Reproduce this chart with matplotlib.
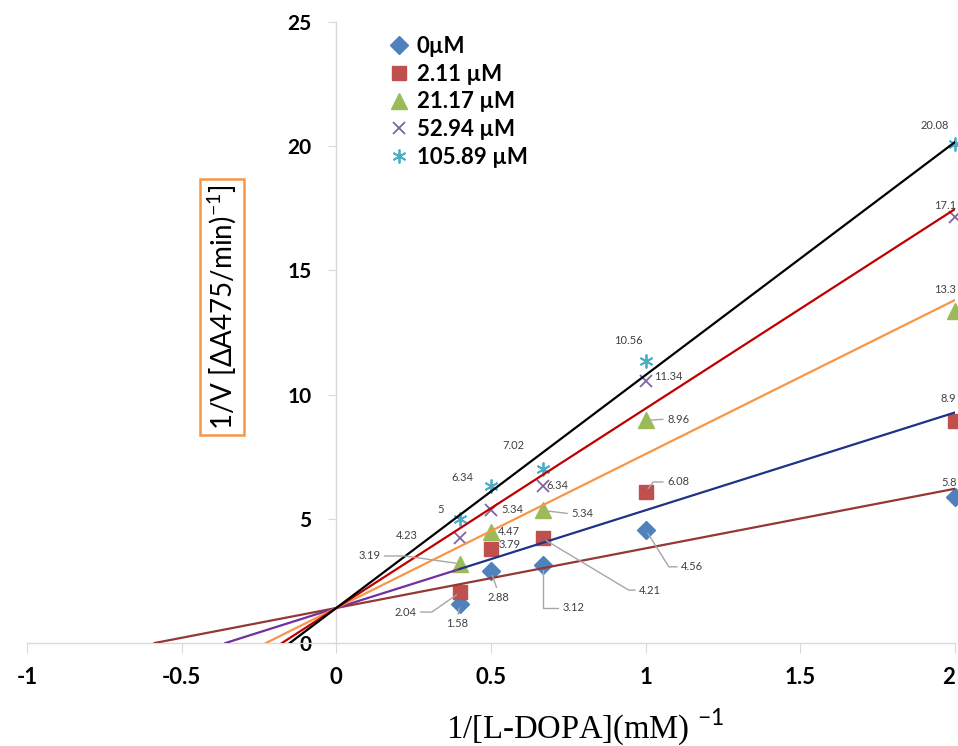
import numpy as np
import matplotlib
matplotlib.use("Agg")
import matplotlib.pyplot as plt

# 1/[L-DOPA] values and 1/V per inhibitor concentration
inv_s = [0.4, 0.5, 0.667, 1.0, 2.0]
series_names = ["0µM", "2.11 µM", "21.17 µM", "52.94 µM", "105.89 µM"]
v_0 = [1.58, 2.88, 3.12, 4.56, 5.89]
v_211 = [2.04, 3.79, 4.21, 6.08, 8.94]
v_2117 = [3.19, 4.47, 5.34, 8.96, 13.35]
v_5294 = [4.23, 5.34, 6.34, 10.56, 17.15]
v_10589 = [5.0, 6.34, 7.02, 11.34, 20.08]
# data labels as printed on the chart (the two at x=1 are swapped in the original,
# the ones at x=2 are cut by the right edge of the picture)
lab_0 = ["1.58", "2.88", "3.12", "4.56", "5.8"]
lab_211 = ["2.04", "3.79", "4.21", "6.08", "8.9"]
lab_2117 = ["3.19", "4.47", "5.34", "8.96", "13.3"]
lab_5294 = ["4.23", "5.34", "6.34", "11.34", "17.1"]
lab_10589 = ["5", "6.34", "7.02", "10.56", "20.08"]
# common y-intercept of the trendlines
y_int = 1.41

x_ticks = [-1, -0.5, 0, 0.5, 1, 1.5, 2]
x_tick_labels = ["-1", "-0.5", "0", "0.5", "1", "1.5", "2"]
y_ticks = [0, 5, 10, 15, 20, 25]

plt.rcParams["font.family"] = ["Lato", "DejaVu Sans"]
plt.rcParams["mathtext.fontset"] = "custom"
plt.rcParams["mathtext.rm"] = "Lato"

marker_style = [
    dict(marker="D", color="#4f81bd", ms=9),
    dict(marker="s", color="#c0504d", ms=10.5),
    dict(marker="^", color="#9bbb59", ms=11),
    dict(marker="x", color="#8064a2", ms=9, mew=1.3),
    dict(marker=(6, 2, 0), color="#4bacc6", ms=10, mew=1.3),
]
line_colors = ["#953735", "#1f3288", "#f79646", "#c00000", "#000000"]

# label offsets (points), alignment, leader: None / ("straight", relpos) / ("angle", relpos, angleB)
label_layout = [
    [(-2, -14.5, "center", ("straight", (0.5, 1))),
     (5, -18.4, "center", ("straight", (0.5, 1))),
     (22, -30.6, "center", ("angle", (0, 0.5), 90)),
     (33.6, -26.7, "center", ("angle", (0, 0.5), -58)),
     (1, 9.9, "right", None)],
    [(-39.4, -14.2, "center", ("angle", (1, 0.5), 35)),
     (13.2, 2.8, "center", None),
     (77.5, -37.2, "center", ("angle", (0, 0.5), -31)),
     (23.5, 7.2, "center", ("angle", (0, 0.5), 53)),
     (1, 16.5, "right", None)],
    [(-65.3, 5.6, "center", ("angle", (1, 0.5), -8)),
     (13.2, 0, "center", None),
     (28.6, -2.6, "center", ("straight", (0, 0.5))),
     (23.5, 1, "center", ("straight", (0, 0.5))),
     (1, 15.4, "right", None)],
    [(-38.7, 1.4, "center", None),
     (15.3, 0.3, "center", None),
     (10.6, 0, "center", None),
     (16.3, 2.7, "center", None),
     (1, 8, "right", None)],
    [(-14.2, 7, "center", None),
     (-20.7, 6.1, "center", None),
     (-21.1, 17, "center", None),
     (-12.5, 15.3, "center", None),
     (-14.5, 13.8, "center", None)],
]

fig = plt.figure(figsize=(9.58, 7.46), dpi=100)
ax = fig.add_axes([27 / 958, 103 / 746, 928 / 958, 621 / 746])
ax.set_xlim(-1, 2)
ax.set_ylim(0, 25)

x = np.array(inv_s)
all_y = [v_0, v_211, v_2117, v_5294, v_10589]
all_lab = [lab_0, lab_211, lab_2117, lab_5294, lab_10589]

for i, (ys, name) in enumerate(zip(all_y, series_names)):
    ys = np.array(ys)
    ax.plot(x, ys, ls="none", label=name, zorder=2, clip_on=False, **marker_style[i])
    # trendline with fixed intercept
    slope = np.sum(x * (ys - y_int)) / np.sum(x ** 2)
    x0 = -y_int / slope
    if i == 1:
        ax.plot([x0, 0.4], [0, y_int + slope * 0.4], color="#7030a0", lw=1.6, zorder=3)
        ax.plot([0.4, 2], [y_int + slope * 0.4, y_int + slope * 2], color=line_colors[i], lw=1.6, zorder=3)
    else:
        ax.plot([x0, 2], [0, y_int + slope * 2], color=line_colors[i], lw=1.6, zorder=3)

    for j in range(len(x)):
        dx, dy, ha, leader = label_layout[i][j]
        arrow = None
        if leader is not None:
            if leader[0] == "straight":
                arrow = dict(arrowstyle="-", color="#a6a6a6", lw=1, relpos=leader[1],
                             shrinkA=1, shrinkB=3)
            else:
                arrow = dict(arrowstyle="-", color="#a6a6a6", lw=1, relpos=leader[1],
                             connectionstyle=f"angle,angleA=0,angleB={leader[2]},rad=0",
                             shrinkA=1, shrinkB=3)
        ax.annotate(all_lab[i][j], xy=(x[j], ys[j]), xytext=(dx, dy), textcoords="offset points",
                    ha=ha, va="center", fontsize=8, color="#404040", arrowprops=arrow,
                    annotation_clip=False, zorder=4)

for side in ["top", "right"]:
    ax.spines[side].set_visible(False)
ax.spines["left"].set_position(("data", 0))
for side in ["left", "bottom"]:
    ax.spines[side].set_color("#d9d9d9")
    ax.spines[side].set_linewidth(1)

ax.set_xticks(x_ticks, labels=x_tick_labels)
ax.set_yticks(y_ticks)
ax.tick_params(axis="x", direction="out", length=7, color="#d9d9d9", pad=10, labelsize=16)
ax.tick_params(axis="y", direction="out", length=6, color="#d9d9d9", pad=12, labelsize=15)
for lbl in ax.get_xticklabels() + ax.get_yticklabels():
    lbl.set_fontweight("bold")
# last x label sits at the right edge of the picture
ax.get_xticklabels()[-1].set_horizontalalignment("right")

ax.legend(loc="upper left", bbox_to_anchor=(390 / 958, 1 - 36 / 746), bbox_transform=fig.transFigure,
          frameon=False, prop=dict(family="Lato", weight="bold", size=16), handlelength=0.8,
          handletextpad=0.4, labelspacing=0.3, borderpad=0, borderaxespad=0)

fig.text(222 / 958, 1 - 307 / 746, "1/V [ΔA475/min)$^{-1}$]", rotation=90, ha="center", va="center",
         fontsize=20, bbox=dict(boxstyle="square,pad=0.2", fc="white", ec="#f79646", lw=1.8))
fig.text(585 / 958, 1 - 727 / 746, "1/[L-DOPA](mM) $^{-1}$", ha="center", va="center",
         fontsize=23.5, family="Liberation Serif")

fig.savefig("out.png", dpi=100)
